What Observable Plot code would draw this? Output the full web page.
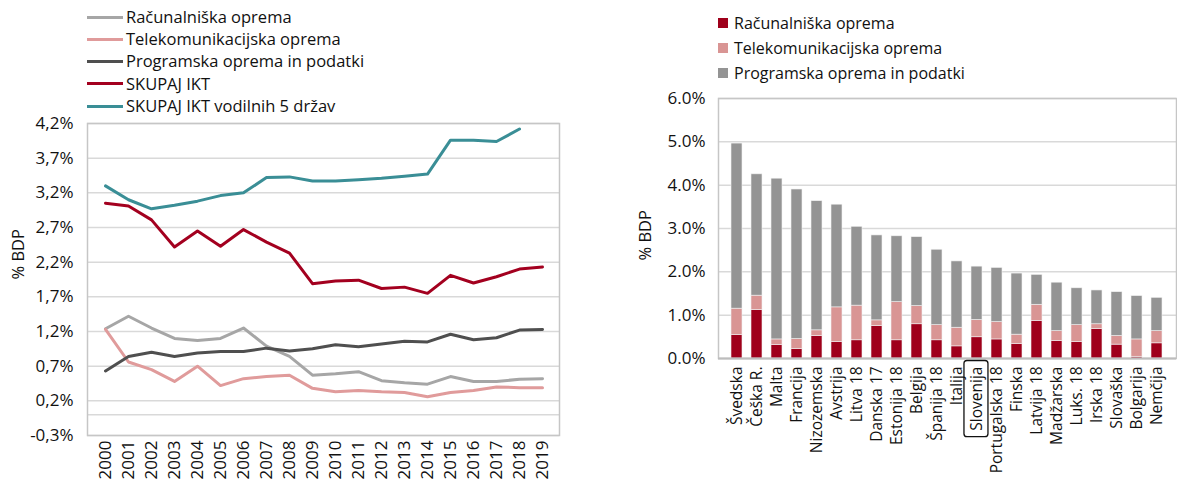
<!DOCTYPE html>
<html><head><meta charset="utf-8">
<script src="https://cdn.jsdelivr.net/npm/d3@7"></script>
<script src="https://cdn.jsdelivr.net/npm/@observablehq/plot@0.6"></script>
<style>
body{margin:0;background:#fff;font-family:"Open Sans",sans-serif;}
#wrap{position:relative;width:1177px;height:490px;overflow:hidden;background:#fff}
#wrap svg{position:absolute;top:0;overflow:visible}
.leg{position:absolute;font-size:16.5px;color:#111;line-height:1}
.leg .row{display:flex;align-items:center;white-space:nowrap}
.legL .row{height:22.25px}
.legL .sw{width:36px;height:3px;margin-right:3px}
.legR{font-size:16px}
.legR .row{height:25px}
.legR .sw{width:10px;height:10px;margin-right:6px}
</style></head>
<body><div id="wrap"></div>
<script>
// ---------- Left chart data ----------
const years = [2000,2001,2002,2003,2004,2005,2006,2007,2008,2009,2010,2011,2012,2013,2014,2015,2016,2017,2018,2019];
const racunalniska = [1.24,1.42,1.25,1.10,1.07,1.10,1.25,0.99,0.84,0.57,0.59,0.62,0.49,0.46,0.44,0.55,0.48,0.48,0.51,0.52];
const telekom = [1.23,0.76,0.65,0.48,0.70,0.42,0.52,0.55,0.57,0.38,0.33,0.35,0.33,0.32,0.26,0.32,0.35,0.40,0.39,0.39];
const programska = [0.63,0.84,0.90,0.84,0.89,0.91,0.91,0.96,0.92,0.95,1.01,0.98,1.02,1.06,1.05,1.16,1.08,1.11,1.22,1.23];
const skupaj = [3.05,3.01,2.81,2.42,2.65,2.43,2.67,2.49,2.33,1.89,1.93,1.94,1.82,1.84,1.75,2.01,1.90,1.99,2.10,2.13];
const vodilnih = [3.30,3.10,2.97,3.02,3.08,3.16,3.20,3.42,3.43,3.37,3.37,3.39,3.41,3.44,3.47,3.96,3.96,3.94,4.12,null];
const lineNames = ["Računalniška oprema","Telekomunikacijska oprema","Programska oprema in podatki","SKUPAJ IKT","SKUPAJ IKT vodilnih 5 držav"];
const lineColors = ["#a6a6a6","#e09b9b","#4f4f4f","#a3001f","#3a8e96"];
const leftTicks = [-0.3,0.2,0.7,1.2,1.7,2.2,2.7,3.2,3.7,4.2];

// ---------- Right chart data ----------
const countries = ["Švedska","Češka R.","Malta","Francija","Nizozemska","Avstrija","Litva 18","Danska 17","Estonija 18","Belgija","Španija 18","Italija","Slovenija","Portugalska 18","Finska","Latvija 18","Madžarska","Luks. 18","Irska 18","Slovaška","Bolgarija","Nemčija"];
const barRac = [0.54,1.12,0.31,0.22,0.52,0.38,0.42,0.75,0.42,0.79,0.42,0.28,0.49,0.44,0.33,0.87,0.40,0.38,0.68,0.32,0.04,0.35];
const barTel = [0.61,0.33,0.13,0.23,0.13,0.80,0.80,0.13,0.88,0.42,0.35,0.43,0.40,0.40,0.22,0.37,0.23,0.39,0.11,0.20,0.40,0.28];
const barProg = [3.81,2.80,3.71,3.45,2.98,2.37,1.82,1.96,1.52,1.59,1.74,1.53,1.23,1.25,1.41,0.69,1.12,0.85,0.78,1.01,1.00,0.77];
const barNames = ["Računalniška oprema","Telekomunikacijska oprema","Programska oprema in podatki"];
const barColors = ["#9f001b","#d99594","#949494"];
const rightTicks = [0,1,2,3,4,5,6];
const highlight = "Slovenija";

const wrap = document.getElementById("wrap");
const gridC = "#d9d9d9", frameC = "#c6c6c6", textC = "#111";

// ---------- Left chart ----------
const lineSeries = [racunalniska, telekom, programska, skupaj, vodilnih];
const longLines = [];
lineSeries.forEach((arr, s) => arr.forEach((v, i) => longLines.push({year: years[i], value: v, series: lineNames[s]})));

const left = Plot.plot({
  width: 580, height: 490,
  marginLeft: 87, marginRight: 21, marginTop: 123, marginBottom: 55,
  style: {fontFamily: "Open Sans", fontSize: "16px", color: textC, background: "transparent"},
  x: {type: "point", domain: years, padding: 0.5},
  y: {domain: [-0.3, 4.2]},
  color: {domain: lineNames, range: lineColors},
  marks: [
    Plot.ruleY(leftTicks, {stroke: gridC, strokeWidth: 1.5}),
    Plot.ruleY([0], {stroke: gridC, strokeWidth: 1.5}),
    Plot.frame({stroke: frameC, strokeWidth: 1.5}),
    Plot.axisY({ticks: leftTicks, tickSize: 0, tickPadding: 14, tickFormat: d => d.toFixed(1).replace(".", ",") + "%", label: null, fontSize: 17}),
    Plot.axisX({tickSize: 0, tickPadding: 5, tickRotate: -90, tickFormat: d => String(d), label: null, fontSize: 17}),
    Plot.line(longLines, {x: "year", y: "value", z: "series", stroke: "series", strokeWidth: 3, defined: d => d.value != null}),
    Plot.text(["% BDP"], {frameAnchor: "left", dx: -69, rotate: -90, fontSize: 16.5, fill: textC})
  ]
});
left.style.left = "0px";
wrap.appendChild(left);

// ---------- Right chart ----------
const barSeries = [barRac, barTel, barProg];
const longBars = [];
countries.forEach((c, i) => barSeries.forEach((arr, s) => longBars.push({country: c, value: arr[i], series: barNames[s]})));

const right = Plot.plot({
  width: 547, height: 490,
  marginLeft: 88, marginRight: 1, marginTop: 98, marginBottom: 132,
  style: {fontFamily: "Open Sans", fontSize: "16px", color: textC, background: "transparent"},
  x: {domain: countries, paddingInner: 0.44, paddingOuter: 0.22},
  y: {domain: [0, 6]},
  color: {domain: barNames, range: barColors},
  marks: [
    Plot.ruleY(rightTicks, {stroke: gridC, strokeWidth: 1.5}),
    Plot.frame({stroke: frameC, strokeWidth: 1.5}),
    Plot.barY(longBars, {x: "country", y: "value", fill: "series", stroke: "#f2f2f2", strokeWidth: 0.6}),
    Plot.ruleY([0], {stroke: "#bdbdbd", strokeWidth: 2}),
    Plot.axisY({ticks: rightTicks, tickSize: 0, tickPadding: 13, tickFormat: d => d.toFixed(1) + "%", label: null, fontSize: 17}),
    Plot.axisX({tickSize: 0, tickPadding: 8, tickRotate: -90, label: null, fontSize: 15.5}),
    Plot.text(["% BDP"], {frameAnchor: "left", dx: -73, dy: 32, rotate: -90, fontSize: 16.5, fill: textC})
  ]
});
right.style.left = "630px";
wrap.appendChild(right);

// highlight box around the Slovenija tick label
d3.select(right).selectAll('g[aria-label="x-axis tick label"] text')
  .filter(function() { return this.textContent === highlight; })
  .each(function() {
    const bb = this.getBBox();
    const r = document.createElementNS("http://www.w3.org/2000/svg", "rect");
    const t = this.getAttribute("transform");
    if (t) r.setAttribute("transform", t);
    r.setAttribute("x", bb.x - 6); r.setAttribute("y", bb.y - 1);
    r.setAttribute("width", bb.width + 12); r.setAttribute("height", bb.height + 2);
    r.setAttribute("rx", 3); r.setAttribute("fill", "none");
    r.setAttribute("stroke", textC); r.setAttribute("stroke-width", 1.3);
    this.parentNode.appendChild(r);
  });

// ---------- Legends ----------
const legL = document.createElement("div");
legL.className = "leg legL"; legL.style.left = "87px"; legL.style.top = "6px";
lineNames.forEach((n, i) => {
  legL.insertAdjacentHTML("beforeend", `<div class="row"><span class="sw" style="background:${lineColors[i]}"></span><span>${n}</span></div>`);
});
wrap.appendChild(legL);

const legR = document.createElement("div");
legR.className = "leg legR"; legR.style.left = "718px"; legR.style.top = "10px";
barNames.forEach((n, i) => {
  legR.insertAdjacentHTML("beforeend", `<div class="row"><span class="sw" style="background:${barColors[i]}"></span><span>${n}</span></div>`);
});
wrap.appendChild(legR);
</script></body></html>
